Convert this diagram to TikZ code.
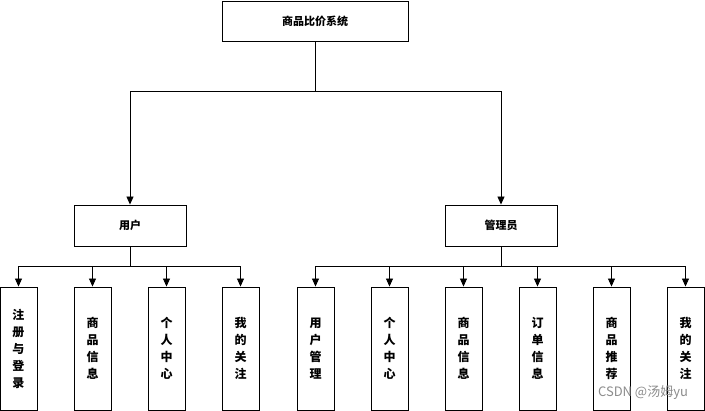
\documentclass[tikz,border=0pt]{standalone}
\usepackage{fontspec}
\setmainfont{Noto Sans CJK SC}
\usetikzlibrary{arrows.meta}
\tikzstyle{sysbox} = [rectangle,
minimum width=186pt,
minimum height=40pt,
text centered,
draw=black,
line width=0.9pt,
font=\fontsize{11}{12}\selectfont\bfseries]
\tikzstyle{rolebox} = [rectangle,
minimum width=112pt,
minimum height=41pt,
text centered,
draw=black,
line width=0.9pt,
font=\fontsize{11}{12}\selectfont\bfseries]
\tikzstyle{leaf} = [rectangle,
minimum width=37pt,
minimum height=123pt,
align=center,
draw=black,
line width=0.9pt,
font=\fontsize{12}{17}\selectfont\bfseries]
\tikzstyle{arrow} = [line width=0.9pt, -{Triangle[length=8pt,width=7pt]}]

\begin{document}
\begin{tikzpicture}[x=1pt, y=1pt]
			\useasboundingbox (0,0) rectangle (705,-411);
			\node (sys) [sysbox] at (315,-21) {商品比价系统};
			\node (user) [rolebox] at (130,-225.5) {用户};
			\node (admin) [rolebox] at (501,-225.5) {管理员};

			\node (u1) [leaf] at (18.5,-348.5) {注\\册\\与\\登\\录};
			\node (u2) [leaf] at (92.5,-348.5) {商\\品\\信\\息};
			\node (u3) [leaf] at (166.5,-348.5) {个\\人\\中\\心};
			\node (u4) [leaf] at (240.5,-348.5) {我\\的\\关\\注};

			\node (a1) [leaf] at (315.5,-348.5) {用\\户\\管\\理};
			\node (a2) [leaf] at (389.5,-348.5) {个\\人\\中\\心};
			\node (a3) [leaf] at (463.5,-348.5) {商\\品\\信\\息};
			\node (a4) [leaf] at (537.5,-348.5) {订\\单\\信\\息};
			\node (a5) [leaf] at (611.5,-348.5) {商\\品\\推\\荐};
			\node (a6) [leaf] at (685.5,-348.5) {我\\的\\关\\注};

			\draw[arrow] (sys.south) -- ++(0,-50) -| (user.north);
			\draw[arrow] (sys.south) -- ++(0,-50) -| (admin.north);
			\foreach \k in {u1,u2,u3,u4}
				\draw[arrow] (user.south) -- ++(0,-20) -| (\k.north);
			\foreach \k in {a1,a2,a3,a4,a5,a6}
				\draw[arrow] (admin.south) -- ++(0,-20) -| (\k.north);

			\node (mark) [text=black!45, font=\fontsize{13}{14}\selectfont] at (643,-393) {CSDN @汤姆yu};
		\end{tikzpicture}
\end{document}
